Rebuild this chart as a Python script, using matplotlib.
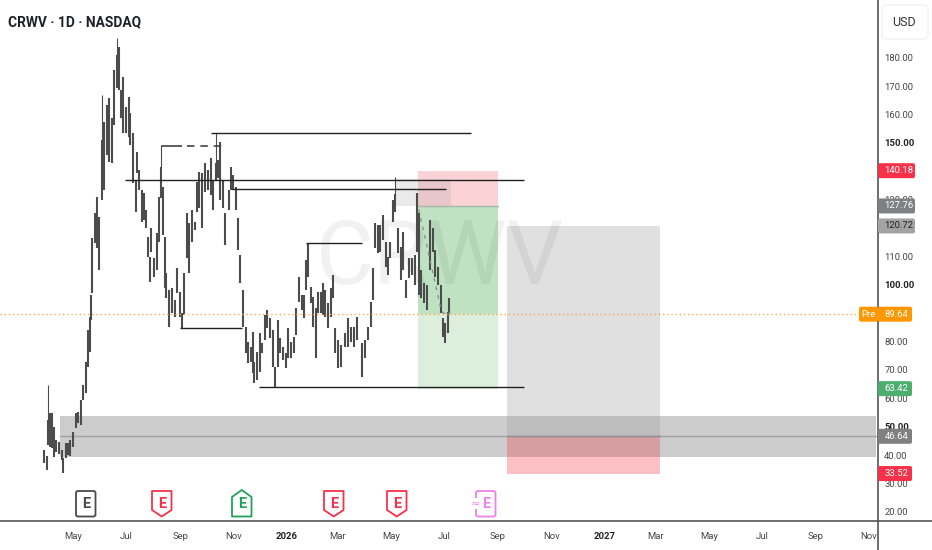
import matplotlib
matplotlib.use('Agg')
import matplotlib.pyplot as plt
import pandas as pd
from matplotlib.patches import FancyBboxPatch, Polygon, Rectangle

plt.rcParams['font.family'] = ['Roboto', 'DejaVu Sans']

# x values are calendar days counted from 2025-05-01
start = pd.Timestamp('2025-05-01')

bar_days = [-33, -30, -29, -26, -24, -22, -19, -16, -13, -11, -8, -6, -3, 0, 3, 6, 9, 11, 15, 17, 19, 21, 22, 25,
            28, 30, 33, 36, 39, 41, 45, 47, 50, 53, 55, 57, 61, 64, 66, 69, 72, 74, 76, 79, 81, 84, 86, 88, 90, 93,
            96, 99, 101, 103, 106, 107, 110, 114, 117, 119, 123, 125, 127, 131, 133, 137, 140, 142, 145, 148, 152,
            155, 158, 161, 164, 166, 169, 172, 174, 179, 181, 184, 187, 189, 192, 195, 199, 201, 204, 207, 208, 211,
            215, 217, 220, 223, 226, 230, 232, 235, 238, 241, 245, 247, 250, 254, 256, 259, 263, 265, 268, 270, 273,
            276, 279, 281, 285, 287, 289, 293, 296, 299, 301, 304, 308, 312, 316, 319, 323, 326, 332, 335, 339, 342,
            344, 347, 350, 353, 356, 359, 362, 364, 367, 370, 373, 377, 379, 382, 386, 389, 393, 395, 397, 400, 403,
            406, 410, 413, 416, 419, 422, 425, 427, 430, 432]
highs = [41.8, 39.7, 52.4, 54.8, 54.8, 49.9, 45.3, 44.6, 41.8, 39, 44.3, 44.3, 45.3, 48.2, 54.8, 55.2, 59.4, 64.7,
         72.8, 84.1, 88.6, 96.4, 116.4, 125.2, 130.9, 123.8, 151, 157.3, 163.3, 165.7, 158.7, 175.6, 181, 183.7,
         168.5, 173.1, 162.6, 166.1, 160.4, 153.4, 136.9, 146.7, 140.4, 133.3, 132.3, 126.3, 116.8, 109.8, 120, 109.4,
         118.2, 130.9, 141.4, 134.4, 116.8, 104.1, 98.1, 98.8, 94.6, 105.9, 97.4, 90, 104.1, 125.2, 121.7, 126.3,
         122.1, 136.2, 139.7, 139.3, 142.8, 140.4, 144.6, 136.9, 143, 143.9, 150.2, 136.9, 125.2, 133.3, 141.4,
         138.6, 134.4, 123.5, 110.5, 98.1, 85.1, 79.8, 78.1, 83.4, 72.8, 76.3, 83, 79.5, 89.3, 91.1, 88.3, 84.1, 71,
         87.6, 81.2, 78.1, 76, 84.8, 79.8, 81.6, 91.8, 102.7, 96.4, 96.4, 108.7, 114.7, 99.2, 95.7, 91.8, 97.4, 97.4,
         100.6, 98.1, 93.6, 98.8, 103.4, 84.8, 80.6, 78.8, 83, 88.3, 85.1, 85.1, 88.6, 79.5, 80.5, 85.1, 93.9, 105.9,
         121.7, 121, 121, 124.5, 115, 109.8, 115, 129.8, 132, 120, 113.3, 118.6, 101.7, 109.4, 109.4, 110.5, 132.3,
         125.2, 105.2, 100.6, 99.9, 122.8, 120, 112.2, 106.2, 99.9, 88.3, 86.5, 90.4, 95.3]
lows = [37.2, 34.8, 43.6, 42.9, 42.5, 39.4, 41.1, 40.4, 38.3, 33.7, 39, 40.1, 39.7, 42.9, 49.6, 51.3, 50.6, 59.4,
        61.9, 71, 76.3, 87.6, 97.1, 114.7, 112.9, 105.2, 129.8, 133.3, 145.7, 143.2, 142.8, 156.2, 169.2, 168.5,
        158.7, 153.4, 153.4, 152, 149.2, 135.8, 125.6, 139.3, 133.3, 122.1, 122.8, 120, 109.8, 101, 111.5, 102.7,
        105.2, 115, 130.5, 117.5, 98.8, 95.3, 85.1, 90, 88.6, 97.1, 88.6, 84.8, 89.3, 109.4, 104.1, 115, 119.3,
        125.6, 127, 120, 132.6, 133.3, 131.6, 126.3, 136.9, 137.6, 129.8, 127, 114, 126.3, 133.3, 133.3, 126.3,
        112.2, 100.6, 85.1, 76, 72.4, 72.8, 68.9, 65.4, 66.5, 69.3, 76, 80.5, 84.8, 81.2, 71, 64, 71, 76, 73.5, 70.7,
        74.2, 74.2, 76, 82.3, 93.9, 91.1, 88.3, 98.1, 102.7, 93.6, 85.1, 74.2, 90, 90, 89.3, 88.6, 84.8, 88.6, 95.3,
        76, 70.7, 71, 78.1, 78.1, 79.8, 78.1, 80.5, 67.5, 74.2, 80.5, 85.1, 94.6, 112.9, 111.2, 111.5, 115.7, 106.2,
        103.4, 109.4, 122.1, 125.6, 111.2, 101.7, 105.2, 95.3, 102.4, 103.4, 99.9, 111.5, 96.4, 95.3, 93.6, 91.1,
        105.2, 111.5, 102.7, 99.9, 90, 81.6, 79.5, 83, 90]

# long thin wicks
wick_days = [-29, 33, 50, 101, 164, 370]
wick_lows = [52.4, 151, 181, 141.4, 143, 132]
wick_highs = [64.7, 166.8, 186.8, 148.9, 153.4, 137.9]

# horizontal levels: price, first day, last day
level_prices = [153.4, 136.9, 133.7, 114.7, 84.8, 64]
level_starts = [158, 60, 182.5, 267.5, 123, 213.5]
level_ends = [457, 518, 428, 332, 194, 518]

price_ticks = [20, 30, 40, 50, 60, 70, 80, 100, 110, 130, 150, 160, 170, 180]
bold_prices = [50, 100, 150]
tick_dates = ['2025-05-01', '2025-07-01', '2025-09-01', '2025-11-01', '2026-01-01', '2026-03-01', '2026-05-01',
              '2026-07-01', '2026-09-01', '2026-11-01', '2027-01-01', '2027-03-01', '2027-05-01', '2027-07-01',
              '2027-09-01', '2027-11-01']
tick_labels = ['May', 'Jul', 'Sep', 'Nov', '2026', 'Mar', 'May', 'Jul', 'Sep', 'Nov', '2027', 'Mar', 'May', 'Jul',
               'Sep', 'Nov']

tag_prices = [140.18, 127.76, 120.72, 89.64, 63.42, 46.64, 33.52]
tag_colors = ['#f7314a', '#7d8184', '#a3a3a3', '#ff9800', '#4caf6e', '#808080', '#f7314a']
tag_text = ['white', 'white', '#222222', 'white', 'white', 'white', 'white']

fig = plt.figure(figsize=(9.32, 5.5), dpi=100)
ax = fig.add_axes([0, 29 / 550, 878 / 932, 521 / 550])
ax.set_xlim(-83.8, 924.2)
ax.set_ylim(16.8, 200.3)


def box(x0, x1, y0, y1, color, z=1):
    ax.add_patch(Rectangle((x0, y0), x1 - x0, y1 - y0, facecolor=color, edgecolor='none', zorder=z))


# watermark, sits over the drawing boxes
ax.text(440 / 878, 109, 'CRWV', transform=ax.get_yaxis_transform(), ha='center', va='center',
        fontsize=64, color='black', alpha=0.055, zorder=1.8)

# support band
box(-15, 922, 39.2, 53.8, '#cccccc', 1)
ax.plot([-15, 922], [46.64, 46.64], color='#a2a2a2', lw=1, zorder=1.5)

# long position box
box(396, 488, 127.76, 140.18, '#fbd3d7', 1)
box(396, 488, 89.64, 127.76, '#bfe2c2', 1)
box(396, 488, 63.42, 89.64, '#dcefdd', 1)
ax.plot([396, 488], [127.76, 127.76], color='#a8b8a8', lw=1, zorder=1.5)

# grey box near the May high
ax.add_patch(Rectangle((370, 127.7), 64, 9.6, facecolor='#a0a0a0', alpha=0.22, edgecolor='none', zorder=1.2))

# forecast box
box(498, 674, 33.52, 46.64, '#fbbfc4', 1)
box(498, 674, 46.64, 120.72, '#e0e0e0', 1)
ax.add_patch(Rectangle((498, 46.64), 176, 7.16, facecolor='#bdbdbd', edgecolor='none', zorder=1.1))
ax.add_patch(Rectangle((498, 39.2), 176, 7.44, facecolor='#d69ea1', edgecolor='none', zorder=1.1))
ax.plot([498, 674], [46.64, 46.64], color='#8f8f8f', lw=1, zorder=1.5)

ax.vlines(bar_days, lows, highs, color='#4c4c4c', lw=1.5, zorder=2)
ax.vlines(wick_days, wick_lows, wick_highs, color='#4c4c4c', lw=0.8, zorder=2)

for price, first, last in zip(level_prices, level_starts, level_ends):
    ax.plot([first, last], [price, price], color='#222222', lw=1, solid_capstyle='butt', zorder=3)
ax.plot([101, 125], [148.9, 148.9], color='#444444', lw=1.2, solid_capstyle='butt', zorder=3)
ax.plot([131, 177], [148.9, 148.9], color='#444444', lw=1.2, ls=(0, (4.5, 3.5)), zorder=3)
ax.plot([397, 423, 431, 434], [126.5, 90.6, 89, 91.5], color='#8a8a8a', lw=0.9, ls=(0, (3, 4)), zorder=3)

# pre market line
ax.axhline(89.64, xmax=859 / 878, color='#f9a94e', lw=1, ls=(0, (1, 2)), zorder=3)

ax.set_xticks([(pd.Timestamp(d) - start).days for d in tick_dates])
ax.set_xticklabels(tick_labels)
ax.set_yticks(price_ticks)
ax.set_yticklabels([f'{p:.2f}' for p in price_ticks])
ax.yaxis.tick_right()
ax.tick_params(axis='both', length=0, labelsize=6.8, labelcolor='#454545')
ax.tick_params(axis='x', pad=8)
ax.tick_params(axis='y', pad=4.5)
for label in ax.get_xticklabels():
    if label.get_text() in ('2026', '2027'):
        label.set_fontweight('bold')
        label.set_color('#222222')
for label, p in zip(ax.get_yticklabels(), price_ticks):
    if p in bold_prices:
        label.set_fontweight('bold')
        label.set_color('#222222')

for side in ('top', 'left'):
    ax.spines[side].set_visible(False)
ax.spines['right'].set_color('#555555')
ax.spines['bottom'].set_color('#555555')
ax.spines['bottom'].set_linewidth(1.2)
ax.spines['right'].set_linewidth(1.2)

# overlay in image pixels for the interface parts
ui = fig.add_axes([0, 0, 1, 1], facecolor='none')
ui.set_xlim(0, 932)
ui.set_ylim(550, 0)
ui.axis('off')
ui.plot([878, 878], [521, 550], color='#555555', lw=1.2)
ui.plot([878, 932], [521, 521], color='#555555', lw=1.2)

ui.text(8, 22, 'CRWV · 1D · NASDAQ', fontsize=9.9, fontweight='bold', color='#1e2228', va='center', ha='left')
ui.add_patch(FancyBboxPatch((882, 5), 46, 34, boxstyle='round,pad=0,rounding_size=4', facecolor='white',
                            edgecolor='#f2f2f2', lw=1))
ui.text(903.5, 22.5, 'USD', fontsize=9, color='#333333', ha='center', va='center')


def price_px(p):
    return 550 - ax.transData.transform((0, p))[1]


for p, col, txt in zip(tag_prices, tag_colors, tag_text):
    y = price_px(p)
    right = 915 if p > 100 else 912
    ui.add_patch(FancyBboxPatch((878, y - 7.5), right - 878, 15, boxstyle='round,pad=0,rounding_size=2',
                                facecolor=col, edgecolor='none', zorder=5))
    ui.text(884.5, y, f'{p:.2f}', fontsize=6.8, color=txt, va='center', ha='left', zorder=6)

y = price_px(89.64)
ui.add_patch(FancyBboxPatch((859, y - 7.5), 19, 15, boxstyle='round,pad=0,rounding_size=2', facecolor='#ff9800',
                            edgecolor='none', zorder=5))
ui.text(868, y, 'Pre', fontsize=6.8, color='white', va='center', ha='center', zorder=6)

# earnings markers: left edge, colour, shape
marker_lefts = [76, 152, 232, 324, 387, 476]
marker_colors = ['#4a4a4a', '#f7314a', '#22a35a', '#f7314a', '#f7314a', '#ee82e6']
marker_shapes = ['square', 'down', 'up', 'down', 'down', 'square']
for left, col, shape in zip(marker_lefts, marker_colors, marker_shapes):
    r = left + 19.5
    if shape == 'square':
        ui.add_patch(FancyBboxPatch((left, 491), 19.5, 25.5, boxstyle='round,pad=0,rounding_size=2', facecolor='white',
                                    edgecolor=col, lw=1.3, zorder=4))
    elif shape == 'down':
        ui.add_patch(Polygon([(left, 491), (r, 491), (r, 510), (left + 9.75, 516.5), (left, 510)], closed=True,
                             facecolor='white', edgecolor=col, lw=1.3, joinstyle='round', zorder=4))
    else:
        ui.add_patch(Polygon([(left + 9.75, 490), (r, 497), (r, 516.5), (left, 516.5), (left, 497)], closed=True,
                             facecolor='white', edgecolor=col, lw=1.3, joinstyle='round', zorder=4))
    ui.text(left + 9.75, 504, 'E', fontsize=10.5, fontweight='bold', color=col, ha='center', va='center', zorder=5)
ui.text(476, 503.5, '≈', fontsize=8, color='#ee82e6', ha='center', va='center', zorder=5,
        family=['DejaVu Sans'], bbox=dict(facecolor='white', edgecolor='none', pad=0.5))

fig.savefig('out.png', dpi=100)
